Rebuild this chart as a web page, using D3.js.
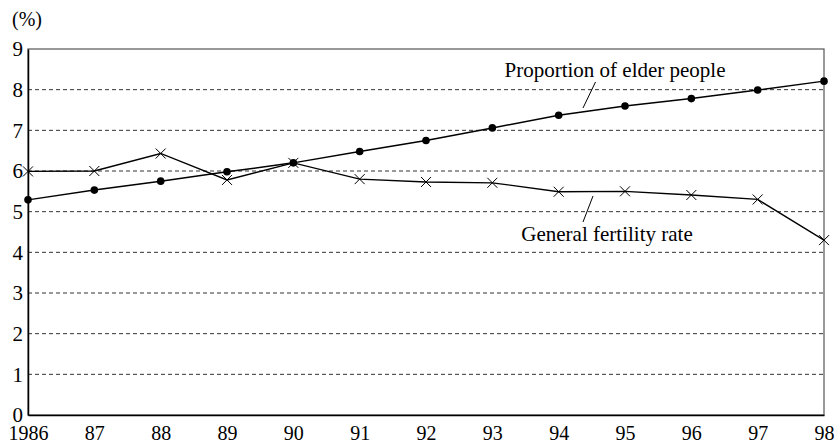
<!DOCTYPE html>
<html>
<head>
<meta charset="utf-8">
<script src="https://cdn.jsdelivr.net/npm/d3@7"></script>
<style>
  html, body { margin: 0; padding: 0; background: #fff; }
  svg text { font-family: "Liberation Serif", "Times New Roman", Times, serif; fill: #000; }
</style>
</head>
<body>
<div id="chart"></div>
<script>
// data
const years = [1986, 1987, 1988, 1989, 1990, 1991, 1992, 1993, 1994, 1995, 1996, 1997, 1998];
const yearLabels = ['1986', '87', '88', '89', '90', '91', '92', '93', '94', '95', '96', '97', '98'];
const elderShare = [5.29, 5.53, 5.75, 5.98, 6.20, 6.48, 6.75, 7.06, 7.37, 7.60, 7.78, 7.99, 8.21];
const fertilityRate = [5.99, 6.0, 6.43, 5.78, 6.20, 5.80, 5.73, 5.71, 5.49, 5.50, 5.41, 5.30, 4.30];
const yTicks = [0, 1, 2, 3, 4, 5, 6, 7, 8, 9];

const width = 836;
const height = 444;
const margin = { top: 49, right: 12, bottom: 29, left: 28 };

const svg = d3.select('#chart')
  .append('svg')
  .attr('width', width)
  .attr('height', height);

const x = d3.scaleLinear()
  .domain([years[0], years[years.length - 1]])
  .range([margin.left, width - margin.right]);

const y = d3.scaleLinear()
  .domain([0, 9])
  .range([height - margin.bottom, margin.top]);

// dashed gridlines
svg.append('g')
  .selectAll('line')
  .data(yTicks.filter(t => t > 0 && t < 9))
  .enter()
  .append('line')
  .attr('x1', margin.left)
  .attr('x2', width - margin.right)
  .attr('y1', d => y(d))
  .attr('y2', d => y(d))
  .attr('stroke', '#333')
  .attr('stroke-width', 1)
  .attr('stroke-dasharray', '4,3');

// frame
svg.append('rect')
  .attr('x', margin.left)
  .attr('y', margin.top)
  .attr('width', width - margin.left - margin.right)
  .attr('height', height - margin.top - margin.bottom)
  .attr('fill', 'none')
  .attr('stroke', '#555')
  .attr('stroke-width', 1.2);

// Y axis labels
svg.append('g')
  .attr('transform', `translate(${margin.left},0)`)
  .call(d3.axisLeft(y).tickValues(yTicks).tickSize(0).tickPadding(5))
  .attr('font-family', null)
  .attr('font-size', 21)
  .call(g => g.select('.domain').attr('stroke', '#000').attr('stroke-width', 1.5));

// X axis labels
svg.append('g')
  .attr('transform', `translate(0,${height - margin.bottom})`)
  .call(d3.axisBottom(x).tickValues(years).tickFormat((d, i) => yearLabels[i]).tickSize(0).tickPadding(11))
  .attr('font-family', null)
  .attr('font-size', 20)
  .call(g => g.select('.domain').attr('stroke', '#000').attr('stroke-width', 1.5))
  .call(g => g.selectAll('text').attr('dy', '0.68em'));

// unit label
svg.append('text')
  .attr('x', 12)
  .attr('y', 26)
  .attr('font-size', 20)
  .text('(%)');

const line = d3.line()
  .x((d, i) => x(years[i]))
  .y(d => y(d));

// elder people line
svg.append('path')
  .datum(elderShare)
  .attr('fill', 'none')
  .attr('stroke', '#000')
  .attr('stroke-width', 1.5)
  .attr('d', line);

svg.selectAll('.dot-elder')
  .data(elderShare)
  .enter()
  .append('circle')
  .attr('cx', (d, i) => x(years[i]))
  .attr('cy', d => y(d))
  .attr('r', 3.8)
  .attr('fill', '#000');

// fertility line
svg.append('path')
  .datum(fertilityRate)
  .attr('fill', 'none')
  .attr('stroke', '#000')
  .attr('stroke-width', 1.3)
  .attr('d', line);

const cross = 5;
svg.selectAll('.mark-fert')
  .data(fertilityRate)
  .enter()
  .append('path')
  .attr('transform', (d, i) => `translate(${x(years[i])},${y(d)})`)
  .attr('d', `M${-cross},${-cross}L${cross},${cross}M${-cross},${cross}L${cross},${-cross}`)
  .attr('stroke', '#000')
  .attr('stroke-width', 1)
  .attr('fill', 'none');

// series labels with leader lines
svg.append('text')
  .attr('x', 615)
  .attr('y', 77)
  .attr('text-anchor', 'middle')
  .attr('font-size', 21)
  .text('Proportion of elder people');

svg.append('line')
  .attr('x1', 595.5).attr('y1', 82)
  .attr('x2', 583).attr('y2', 108)
  .attr('stroke', '#000').attr('stroke-width', 1);

svg.append('text')
  .attr('x', 607)
  .attr('y', 241)
  .attr('text-anchor', 'middle')
  .attr('font-size', 21)
  .text('General fertility rate');

svg.append('line')
  .attr('x1', 593).attr('y1', 196)
  .attr('x2', 583).attr('y2', 222)
  .attr('stroke', '#000').attr('stroke-width', 1);
</script>
</body>
</html>
